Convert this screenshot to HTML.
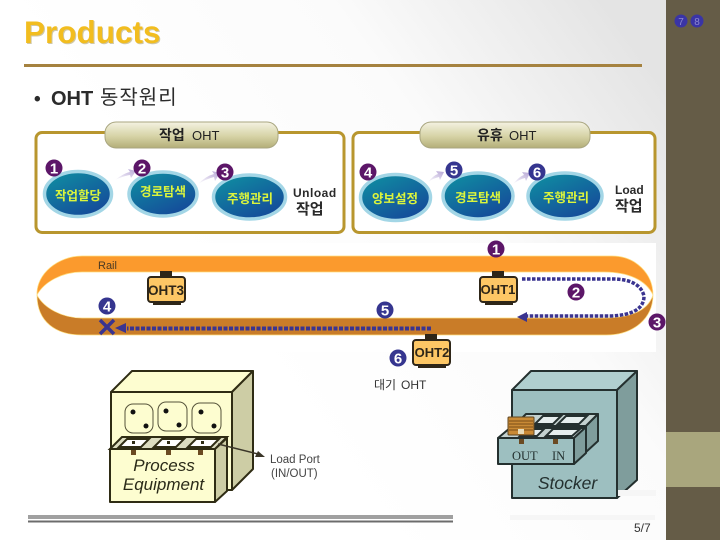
<!DOCTYPE html>
<html><head><meta charset="utf-8">
<style>
html,body{margin:0;padding:0;background:#fff}
svg{display:block}
text{font-family:"Liberation Sans","Noto Sans CJK KR",sans-serif}
</style></head>
<body>
<svg width="720" height="540" viewBox="0 0 720 540" xmlns="http://www.w3.org/2000/svg">
<defs>
<linearGradient id="bg" x1="0.35" y1="0.65" x2="1" y2="0.3"><stop offset="0" stop-color="#fff"/><stop offset="0.55" stop-color="#fbfbfb"/><stop offset="1" stop-color="#e4e4e4"/></linearGradient>
<linearGradient id="pill" x1="0" y1="0" x2="0" y2="1"><stop offset="0" stop-color="#f4f2e2"/><stop offset="0.55" stop-color="#d6d3a6"/><stop offset="1" stop-color="#b3ae78"/></linearGradient>
<linearGradient id="ell" x1="0" y1="0" x2="0.7" y2="1"><stop offset="0" stop-color="#0f93a2"/><stop offset="1" stop-color="#154a9a"/></linearGradient>
<linearGradient id="arr" x1="0" y1="1" x2="1" y2="0"><stop offset="0" stop-color="#fff"/><stop offset="1" stop-color="#b5a5d5"/></linearGradient>
<g id="oht">
<rect x="13" y="-5" width="12" height="6" fill="#2e2618"/>
<rect x="6" y="25" width="28" height="4" fill="#2e2618"/>
<rect x="1" y="1" width="37" height="25" rx="3" fill="#fdc765" stroke="#2e2618" stroke-width="2"/>
</g>
</defs>
<rect width="720" height="540" fill="url(#bg)"/>
<rect x="666" width="54" height="540" fill="#655c47"/>
<rect x="666" y="432" width="54" height="55" fill="#a9a67d"/>
<circle cx="681" cy="21" r="6.5" fill="#3a34a6"/><circle cx="697" cy="21" r="6.5" fill="#3a34a6"/>
<text x="681" y="25" font-size="10" fill="#8d88d0" text-anchor="middle">7</text>
<text x="697" y="25" font-size="10" fill="#8d88d0" text-anchor="middle">8</text>

<text x="25" y="44" font-size="31.5" font-weight="bold" fill="#cfc7a8">Products</text>
<text x="24" y="43" font-size="31.5" font-weight="bold" fill="#f2bd1f">Products</text>
<rect x="24" y="64" width="618" height="3" fill="#a5823f"/>
<text x="34" y="105" font-size="19" font-weight="bold" fill="#2b2b2b">•</text>
<text x="51" y="105" font-size="20" font-weight="bold" fill="#2b2b2b">OHT</text>
<text x="100" y="104" font-size="20" letter-spacing="1" fill="#2b2b2b">동작원리</text>

<!-- top frames -->
<rect x="36" y="132.500" width="308" height="100" rx="6" fill="#fff" stroke="#b8962e" stroke-width="3"/>
<rect x="353" y="132.500" width="302" height="100" rx="6" fill="#fff" stroke="#b8962e" stroke-width="3"/>
<rect x="105" y="122" width="173" height="26" rx="11" fill="url(#pill)" stroke="#a9a680"/>
<rect x="420" y="122" width="170" height="26" rx="11" fill="url(#pill)" stroke="#a9a680"/>
<text x="159" y="140" font-size="14" font-weight="bold" fill="#222">작업</text>
<text x="192" y="140" font-size="13" fill="#222">OHT</text>
<text x="477" y="140" font-size="14" font-weight="bold" fill="#222">유휴</text>
<text x="509" y="140" font-size="13" fill="#222">OHT</text>

<g fill="url(#ell)" stroke="#a3d6e6" stroke-width="3.500">
<ellipse cx="78" cy="194" rx="33.500" ry="22.500"/>
<ellipse cx="163" cy="194" rx="34" ry="22"/>
<ellipse cx="249.500" cy="197" rx="36" ry="22"/>
<ellipse cx="395.500" cy="197.500" rx="35" ry="23"/>
<ellipse cx="478" cy="196" rx="35" ry="23"/>
<ellipse cx="565" cy="196" rx="37" ry="23"/>
</g>
<g font-size="12.500" font-weight="bold" fill="#dcf53c" text-anchor="middle">
<text x="78" y="200">작업할당</text>
<text x="163" y="196">경로탐색</text>
<text x="250" y="203">주행관리</text>
<text x="395" y="203">양보설정</text>
<text x="478" y="202">경로탐색</text>
<text x="566" y="202">주행관리</text>
</g>
<g fill="url(#arr)">
<path d="M115 180 Q124 173 130 172 L128 169 L136 171 L131 178 L130 175 Q123 176 115 180Z"/>
<path d="M198 184 Q206 176 214 174 L212 171 L220 173 L215 181 L214 177 Q206 179 198 184Z"/>
<path d="M428 182 Q434 175 438 174 L436 171 L444 172 L440 180 L439 177 Q434 178 428 182Z"/>
<path d="M513 184 Q520 176 524 175 L522 172 L530 173 L526 181 L525 178 Q520 179 513 184Z"/>
</g>
<text x="293" y="197" font-size="12" font-weight="bold" fill="#2a2a2a" letter-spacing="0.5">Unload</text>
<text x="296" y="214" font-size="15" font-weight="bold" fill="#2a2a2a">작업</text>
<text x="615" y="194" font-size="12" font-weight="bold" fill="#2a2a2a">Load</text>
<text x="615" y="211" font-size="15" font-weight="bold" fill="#2a2a2a">작업</text>

<!-- rail -->
<rect x="36" y="243" width="620" height="109" fill="#fff"/>
<path d="M82 256 H612 C636 256 653 274 653 295 C646 280 628 272 604 272 H82 C62 272 44 282 37 295 C36 274 58 256 82 256Z" fill="#fb9a2d" stroke="#ffdf80" stroke-width="0.7"/>
<path d="M653 295 C653 318 634 335 606 335 H82 C56 335 37 322 37 295 C44 308 62 318 82 318 H604 C632 318 648 310 653 295Z" fill="#c97c28" stroke="#ffdf80" stroke-width="0.7"/>
<text x="98" y="269" font-size="11" fill="#4a3a24">Rail</text>

<path d="M522 279 H615 Q640 280 644 296 Q644 315 610 316 H526" fill="none" stroke="#3a3490" stroke-width="3.500" stroke-dasharray="3.500 1.500"/>
<path d="M517 317 L527 312 V322Z" fill="#3a3490"/>
<path d="M431 328.500 H127" fill="none" stroke="#3a3490" stroke-width="4" stroke-dasharray="4 1.500"/>
<path d="M115 328 L126 323 V333Z" fill="#3a3490"/>
<path d="M100 320 L114 334 M114 320 L100 334" stroke="#3a3490" stroke-width="3.500"/>

<use href="#oht" x="147" y="276"/>
<use href="#oht" x="479" y="276"/>
<use href="#oht" x="412" y="339"/>
<text x="166" y="295" font-size="13.500" font-weight="bold" fill="#2e2618" text-anchor="middle">OHT3</text>
<text x="498" y="294" font-size="13" font-weight="bold" fill="#2e2618" text-anchor="middle">OHT1</text>
<text x="432" y="357" font-size="13" font-weight="bold" fill="#2e2618" text-anchor="middle">OHT2</text>
<text x="374" y="389" font-size="12" fill="#333">대기</text>
<text x="401" y="389" font-size="12" fill="#333">OHT</text>

<!-- badges -->
<g fill="#5c1668">
<circle cx="54" cy="168" r="8.500"/><circle cx="142" cy="168" r="8.500"/><circle cx="225" cy="172" r="8.500"/>
<circle cx="368" cy="172" r="8.500"/><circle cx="496" cy="249" r="8.500"/><circle cx="576" cy="292" r="8.500"/><circle cx="657" cy="322" r="8.500"/>
</g>
<g fill="#35358f">
<circle cx="454" cy="170" r="8.500"/><circle cx="537" cy="172" r="8.500"/>
<circle cx="107" cy="306" r="8.500"/><circle cx="385" cy="310" r="8.500"/><circle cx="398" cy="358" r="8.500"/>
</g>
<g fill="#fff" font-size="15" font-weight="bold" text-anchor="middle">
<text x="54" y="173.500">1</text><text x="142" y="173.500">2</text><text x="225" y="177.500">3</text>
<text x="368" y="177.500">4</text><text x="454" y="175.500">5</text><text x="537" y="177.500">6</text>
<text x="496" y="254.500">1</text><text x="576" y="297.500">2</text><text x="657" y="327.500">3</text>
<text x="107" y="311.500">4</text><text x="385" y="315.500">5</text><text x="398" y="363.500">6</text>
</g>

<!-- process equipment -->
<g stroke="#2f2c14" stroke-width="2" stroke-linejoin="round">
<path d="M111 392 L132 371 H253 L232 392Z" fill="#fdfdd0"/>
<path d="M232 392 L253 371 V469 L232 490Z" fill="#cdcda5"/>
<rect x="111" y="392" width="121" height="98" fill="#fdfdd0"/>
</g>
<g fill="none" stroke="#55533a" stroke-width="1">
<rect x="125" y="404" width="28" height="29" rx="8"/>
<rect x="158" y="402" width="29" height="29" rx="8"/>
<rect x="192" y="403" width="29" height="30" rx="8"/>
</g>
<g fill="#111">
<circle cx="133" cy="412" r="2.500"/><circle cx="146" cy="426" r="2.500"/>
<circle cx="166" cy="411" r="2.500"/><circle cx="179" cy="425" r="2.500"/>
<circle cx="201" cy="412" r="2.500"/><circle cx="214" cy="426" r="2.500"/>
</g>
<path d="M110 449 L122 437 H227 L215 449Z" fill="#dcdcc0" stroke="#2f2c14" stroke-width="2"/>
<g fill="#fff" stroke="#2f2c14" stroke-width="2">
<path d="M119 447 L127 439 H149 L141 447Z"/><path d="M154 447 L162 439 H184 L176 447Z"/><path d="M188 447 L196 439 H219 L211 447Z"/>
</g>
<g fill="#2f2c14"><rect x="132" y="441" width="3" height="3"/><rect x="167" y="441" width="3" height="3"/><rect x="201" y="441" width="3" height="3"/></g>
<g stroke="#2f2c14" stroke-width="2" stroke-linejoin="round">
<path d="M215 449 L227 438 V491 L215 502Z" fill="#cdcda5"/>
<rect x="110" y="449" width="105" height="53" fill="#fdfdd0"/>
</g>
<g fill="#6b4a22"><rect x="131" y="450" width="5" height="5"/><rect x="166" y="450" width="5" height="5"/><rect x="198" y="450" width="5" height="5"/></g>
<text x="164" y="471" font-size="17" font-style="italic" fill="#2a2a18" text-anchor="middle">Process</text>
<text x="163.500" y="490" font-size="17" font-style="italic" fill="#2a2a18" text-anchor="middle">Equipment</text>
<path d="M218 444 L258 454" stroke="#3a3528" stroke-width="1.500"/>
<path d="M265 457 L255 457 L258 451Z" fill="#3a3528"/>
<text x="270" y="463" font-size="11.500" fill="#444">Load Port</text>
<text x="271" y="477" font-size="11.500" fill="#444">(IN/OUT)</text>

<!-- stocker -->
<g stroke="#24302f" stroke-width="2" stroke-linejoin="round">
<path d="M512 390 L531 371 H637 L617 390Z" fill="#b0cfcf"/>
<path d="M617 390 L637 371 V480 L617 498Z" fill="#7f9d9c"/>
<rect x="512" y="390" width="105" height="108" fill="#9dbfc0"/>
<path d="M526 414 H598 L586 426 H514Z" fill="#c4d2d0"/>
<path d="M586 426 L598 414 V441 L586 452Z" fill="#7f9d9c"/>
<path d="M498 438 L510 428 H585 L574 438Z" fill="#c4d2d0"/>
<path d="M574 438 L586 427 V453 L574 464Z" fill="#7f9d9c"/>
<rect x="498" y="438" width="76" height="26" fill="#9dbfc0"/>
</g>
<g fill="#e6eeee" stroke="#24302f" stroke-width="2">
<path d="M535 424 L543 416 H561 L553 424Z"/><path d="M558 424 L566 416 H587 L579 424Z"/>
<path d="M546 436 L553 429 H580 L572 436Z"/>
<path d="M520 436 L527 429 H544 L537 436Z"/>
</g>
<g fill="#6b4a22"><rect x="519" y="439" width="5" height="5"/><rect x="553" y="439" width="5" height="5"/></g>
<rect x="508" y="417" width="26" height="18" rx="1" fill="#c98a35" stroke="#5f4520"/>
<path d="M509 421 H533 M509 424 H533 M509 427 H533 M509 430 H533" stroke="#7a4f18" stroke-width="1"/>
<rect x="518" y="429" width="6" height="5" fill="#e8dcb8"/>
<text x="512" y="460" font-size="12.500" fill="#24302f" style="font-family:'Liberation Serif',serif">OUT</text>
<text x="552" y="460" font-size="12.500" fill="#24302f" style="font-family:'Liberation Serif',serif">IN</text>
<text x="567.500" y="489" font-size="17.500" font-style="italic" fill="#24302f" text-anchor="middle">Stocker</text>

<rect x="618" y="490" width="38" height="6" fill="#f6f6f6"/>
<rect x="510" y="515" width="145" height="5" fill="#f6f6f6"/>
<rect x="28" y="515" width="425" height="4" fill="#a0a0a0"/>
<rect x="28" y="520.500" width="425" height="2" fill="#6c6c6c"/>
<text x="634" y="532" font-size="12" fill="#333">5/7</text>
</svg>
</body></html>
